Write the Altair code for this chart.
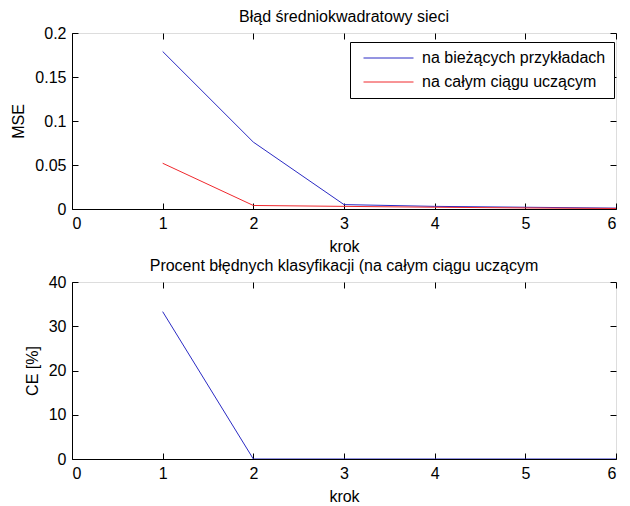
import altair as alt
import pandas as pd

# ---- data ----
steps = [1, 2, 3, 4, 5, 6]
mse_current = [0.179, 0.076, 0.005, 0.003, 0.002, 0.001]
mse_full = [0.052, 0.004, 0.003, 0.002, 0.0012, 0.0006]
ce_values = [33.3, 0, 0, 0, 0, 0]
series_names = ["na bieżących przykładach", "na całym ciągu uczącym"]
series_colors = ["#2b2bc4", "#f0282d"]
x_ticks = [0, 1, 2, 3, 4, 5, 6]
mse_ticks = [0, 0.05, 0.1, 0.15, 0.2]
ce_ticks = [0, 10, 20, 30, 40]

FONT = "Liberation Sans"
FS = 16
W = 544
TICK = 6

df_top = pd.DataFrame({
    "krok": steps * 2,
    "MSE": mse_current + mse_full,
    "seria": [series_names[0]] * len(steps) + [series_names[1]] * len(steps),
})
df_bot = pd.DataFrame({"krok": steps, "CE": ce_values})


def label_axis(orient, values, title):
    kw = dict(orient=orient, values=values, title=title, ticks=False, grid=False,
              domain=True, domainColor="black", labelColor="black", format=".2~f",
              labelFont=FONT, labelFontSize=FS, titleFont=FONT, titleFontSize=FS,
              titleFontWeight="normal", titleColor="black", minExtent=0)
    if orient == "bottom":
        kw.update(labelPadding=6, titlePadding=7)
    else:
        kw.update(labelPadding=6, titlePadding=8)
    return alt.Axis(**kw)


def tick_axis(orient, values):
    return alt.Axis(orient=orient, values=values, title=None, labels=False, grid=False,
                    domain=False, ticks=True, tickSize=TICK, tickColor="black",
                    tickWidth=1, offset=-TICK, minExtent=0, maxExtent=TICK)


def panel(df, yfield, ydomain, yticks, ytitle, title, height, color=None):
    xs = alt.Scale(domain=[0, 6], nice=False, zero=False)
    ys = alt.Scale(domain=ydomain, nice=False)
    base = alt.Chart(df)
    enc = dict(
        x=alt.X("krok:Q", scale=xs, axis=label_axis("bottom", x_ticks, "krok")),
        y=alt.Y(f"{yfield}:Q", scale=ys, axis=label_axis("left", yticks, ytitle)),
    )
    if color is not None:
        enc["color"] = color
        main = base.mark_line(strokeWidth=1, clip=True).encode(**enc)
    else:
        main = base.mark_line(strokeWidth=1, color=series_colors[0], clip=True).encode(**enc)
    t1 = base.mark_line(opacity=0).encode(
        x=alt.X("krok:Q", scale=xs, axis=tick_axis("bottom", x_ticks)),
        y=alt.Y(f"{yfield}:Q", scale=ys, axis=tick_axis("left", yticks)),
    )
    t2 = base.mark_line(opacity=0).encode(
        x=alt.X("krok:Q", scale=xs, axis=tick_axis("top", x_ticks)),
        y=alt.Y(f"{yfield}:Q", scale=ys, axis=tick_axis("right", yticks)),
    )
    return alt.layer(main, t1, t2).resolve_axis(x="independent", y="independent").properties(
        width=W, height=height,
        title=alt.TitleParams(title, font=FONT, fontSize=FS, fontWeight="normal",
                              color="black", offset=0, anchor="middle"),
    )


color_enc = alt.Color(
    "seria:N",
    scale=alt.Scale(domain=series_names, range=series_colors),
    legend=alt.Legend(
        title=None, orient="none", legendX=278, legendY=9,
        strokeColor="black", fillColor="white", padding=8,
        symbolType="M-0.5,0H9.5", symbolSize=100, symbolStrokeWidth=1,
        labelFont=FONT, labelFontSize=FS, labelColor="black", labelLimit=0,
        rowPadding=8, labelOffset=48, cornerRadius=0,
    ),
)

top = panel(df_top, "MSE", [0, 0.2], mse_ticks, "MSE", "Błąd średniokwadratowy sieci",
            176, color=color_enc)
bottom = panel(df_bot, "CE", [0, 40], ce_ticks, "CE [%]",
               "Procent błędnych klasyfikacji (na całym ciągu uczącym", 177)

chart = alt.vconcat(
    top, bottom, spacing=2,
    padding={"left": 2, "top": 0, "right": 0, "bottom": 0},
).configure_view(stroke="black", strokeWidth=1).configure(background="white")

chart.save("out.html", embed_options={"renderer": "svg", "actions": False})
